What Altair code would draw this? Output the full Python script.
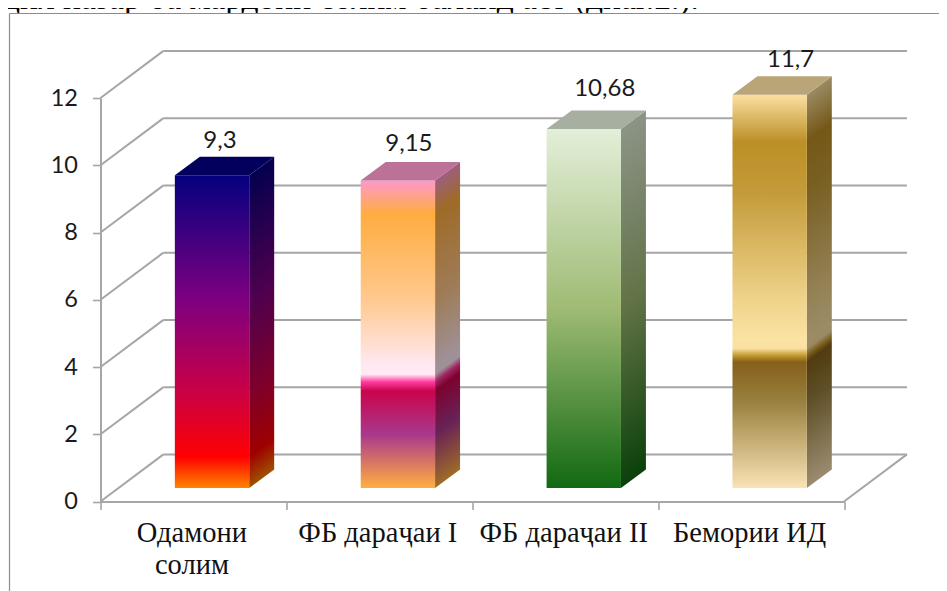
import altair as alt
import pandas as pd

# ---- data
categories = ["Одамони солим", "ФБ дараҷаи I", "ФБ дараҷаи II", "Бемории ИД"]
values = [9.3, 9.15, 10.68, 11.7]
value_labels = ["9,3", "9,15", "10,68", "11,7"]
y_ticks = [0, 2, 4, 6, 8, 10, 12]
heading = "дил назар ба мардони солим баланд аст (диаг.2.)."

# ---- styles
stops_by_bar = [
    [(0, "#05007F"), (0.4, "#7E0080"), (0.7, "#CC0044"), (0.9, "#FF0000"), (1, "#FF8400")],
    [(0, "#FF99CC"), (0.11, "#FFAD40"), (0.39, "#FFC98F"), (0.6, "#FFE9F2"), (0.63, "#FFEBF5"),
     (0.655, "#FF3CA0"), (0.685, "#C9044C"), (0.825, "#A9388C"), (1, "#FFAF40")],
    [(0, "#E3EFD9"), (0.5, "#9FBB74"), (1, "#116911")],
    [(0, "#FBE0A1"), (0.12, "#BC8F26"), (0.25, "#C49B3A"), (0.52, "#EFD38B"), (0.625, "#FBE3A5"),
     (0.645, "#FADFA0"), (0.665, "#BF9228"), (0.68, "#85601A"), (0.78, "#99803F"), (1, "#FAE3B5")],
]
label_nudges = [(-17, 1), (-14, -1), (-4, -4), (-4, 1)]
SIDE_SHADE = 0.62
TOP_SHADE = 0.74
GRID = "#A6A6A6"
INK = "#1A1A1A"
TICK_FONT = "Lato"
CAT_FONT = "Liberation Serif"

# ---- 3-D construction, in scale units
BAR_START, BAR_END = 0.4, 0.8     # within a category
BASE = 0.40                       # front of the bars above the axis floor
BAR_DX, BAR_DY = 0.1344, 0.55     # depth of a bar
WALL_DX, WALL_DY = 0.3387, 1.40   # depth of the floor

X_SCALE = alt.Scale(domain=[0, 4], nice=False, zero=False)
Y_SCALE = alt.Scale(domain=[0, 12], nice=False, zero=False)


def shade(col, f):
    r, g, b = (int(col[i:i + 2], 16) for i in (1, 3, 5))
    return "#%02X%02X%02X" % (int(r * f), int(g * f), int(b * f))


def gradient(stops, f=1.0, x2=0.0, y1=0.0, y2=1.0):
    return alt.LinearGradient(
        gradient="linear", x1=0, y1=y1, x2=x2, y2=y2,
        stops=[alt.GradientStop(offset=o, color=shade(c, f)) for o, c in stops],
    )


qx = lambda f: alt.X(f, type="quantitative", scale=X_SCALE, axis=None)
qy = lambda f: alt.Y(f, type="quantitative", scale=Y_SCALE, axis=None)
one_row = pd.DataFrame({"a": [0]})

layers = []

# the document page behind the chart: the sentence above it, clipped by the chart's white box
layers.append(
    alt.Chart(pd.DataFrame({"t": [heading]})).mark_text(
        font=CAT_FONT, fontSize=33.5, color="#000000", align="left", baseline="alphabetic"
    ).encode(x=alt.value(-97.5), y=alt.value(-89), text="t:N")
)
layers.append(
    alt.Chart(one_row).mark_rect(color="#FFFFFF").encode(
        x=alt.value(-91), x2=alt.value(840), y=alt.value(-84.5), y2=alt.value(493)
    )
)
layers.append(
    alt.Chart(one_row).mark_rule(color="#8C8C8C", strokeWidth=1.2).encode(
        x=alt.value(-91), y=alt.value(-84.5), y2=alt.value(493)
    )
)
layers.append(
    alt.Chart(one_row).mark_rule(color="#8C8C8C", strokeWidth=1.2).encode(
        x=alt.value(-91), x2=alt.value(840), y=alt.value(-84.5)
    )
)

# walls and floor
grid_rows = []
for t in y_ticks:
    grid_rows.append(dict(x=0, x2=WALL_DX, y=t, y2=t + WALL_DY))
    grid_rows.append(dict(x=WALL_DX, x2=4 + WALL_DX, y=t + WALL_DY, y2=t + WALL_DY))
grid_rows.append(dict(x=4, x2=4 + WALL_DX, y=0, y2=WALL_DY))
layers.append(
    alt.Chart(pd.DataFrame(grid_rows)).mark_rule(color=GRID, strokeWidth=2).encode(
        x=qx("x"), x2="x2:Q", y=qy("y"), y2="y2:Q"
    )
)

# real axes, drawn from a nominal layer
axis_df = pd.DataFrame({"cat": categories, "v": values})
layers.append(
    alt.Chart(axis_df).mark_point(opacity=0).encode(
        x=alt.X(
            "cat:N", sort=categories, title=None,
            scale=alt.Scale(paddingInner=0, paddingOuter=0),
            axis=alt.Axis(
                tickBand="extent", labelAngle=0, labelFont=CAT_FONT, labelFontSize=28.5,
                labelColor="#111111", labelPadding=9, labelOffset=-2, tickSize=8, tickColor=GRID,
                tickWidth=1.6, domainColor=GRID, domainWidth=2, grid=False, labelLimit=400,
                labelExpr="datum.label == 'Одамони солим' ? ['Одамони', 'солим'] : datum.label",
                labelLineHeight=32, zindex=1,
            ),
        ),
        y=alt.Y(
            "v:Q", title=None, scale=Y_SCALE,
            axis=alt.Axis(
                values=y_ticks, labelFont=TICK_FONT, labelFontSize=23.5, labelColor=INK,
                labelPadding=15, tickSize=8, tickColor=GRID, tickWidth=1.6,
                domainColor=GRID, domainWidth=2, grid=False, zindex=1,
            ),
        ),
    )
)

# bars
for i, (val, stops) in enumerate(zip(values, stops_by_bar)):
    x0, x1 = i + BAR_START, i + BAR_END
    x2 = x1 + BAR_DX
    y0, y1 = BASE, BASE + val
    # side face: the bands run parallel to the top edge
    a = BAR_DY / (val + BAR_DY)
    k = (1 - a) / (1 + a * a)
    side = pd.DataFrame({"x": [x1, x2], "lo": [y0, y0 + BAR_DY], "hi": [y1, y1 + BAR_DY]})
    layers.append(
        alt.Chart(side).mark_area(
            color=gradient(stops, SIDE_SHADE, x2=k * a, y1=a, y2=a + k)
        ).encode(x=qx("x"), y=qy("lo"), y2="hi:Q")
    )
    front = pd.DataFrame({"x": [x0], "x2": [x1], "lo": [y0], "hi": [y1]})
    layers.append(
        alt.Chart(front).mark_rect(color=gradient(stops)).encode(
            x=qx("x"), x2="x2:Q", y=qy("lo"), y2="hi:Q"
        )
    )
    top = pd.DataFrame({"y": [y1, y1 + BAR_DY], "l": [x0, x0 + BAR_DX], "r": [x1, x2]})
    layers.append(
        alt.Chart(top).mark_area(orient="horizontal", color=shade(stops[0][1], TOP_SHADE)).encode(
            y=qy("y"), x=qx("l"), x2="r:Q"
        )
    )
    dx, dy = label_nudges[i]
    lab = pd.DataFrame({"x": [(x1 + x0) / 2 + BAR_DX], "y": [y1 + BAR_DY], "t": [value_labels[i]]})
    layers.append(
        alt.Chart(lab).mark_text(
            font=TICK_FONT, fontSize=24, color=INK, baseline="bottom", dx=dx, dy=dy - 5
        ).encode(x=qx("x"), y=qy("y"), text="t:N")
    )

chart = (
    alt.layer(*layers)
    .resolve_scale(x="independent", y="independent")
    .properties(
        width=743.5,
        height=403.5,
        autosize=alt.AutoSizeParams(type="none"),
        padding={"left": 92.5, "top": 90, "right": 95, "bottom": 89.5},
        view=alt.ViewConfig(stroke=None),
    )
    .configure_view(stroke=None, strokeWidth=0)
    .configure(background="#FFFFFF")
)

chart.save("out.html", embed_options={"renderer": "svg", "actions": False})
